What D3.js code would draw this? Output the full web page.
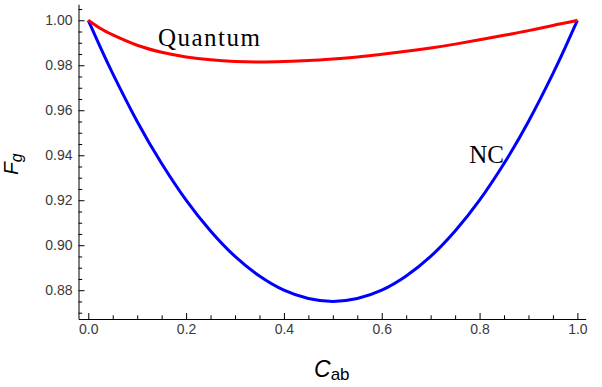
<!DOCTYPE html>
<html>
<head>
<meta charset="utf-8">
<script src="https://cdn.jsdelivr.net/npm/d3@7"></script>
<style>
  body { margin: 0; background: #fff; }
  svg { display: block; }
</style>
</head>
<body>
<script>
// values
var cab = [0, 0.025, 0.05, 0.1, 0.15, 0.2, 0.25, 0.3, 0.35, 0.4, 0.45, 0.5,
           0.55, 0.6, 0.65, 0.7, 0.75, 0.8, 0.85, 0.9, 0.95, 0.975, 1.0];
var quantum = [1.0, 0.9963, 0.9935, 0.9889, 0.9858, 0.9837, 0.9824, 0.9817, 0.9815, 0.9817, 0.9821, 0.9828,
               0.9837, 0.9849, 0.9862, 0.9877, 0.9894, 0.9913, 0.9933, 0.9954, 0.9977, 0.9988, 1.0];
var nc = [1.0, 0.9878, 0.9763, 0.955, 0.9363, 0.920, 0.9063, 0.895, 0.8863, 0.880, 0.8763, 0.875,
          0.8763, 0.880, 0.8863, 0.895, 0.9063, 0.920, 0.9363, 0.955, 0.9763, 0.9878, 1.0];

var xTicks = [0, 0.2, 0.4, 0.6, 0.8, 1.0];
var yTicks = [0.88, 0.90, 0.92, 0.94, 0.96, 0.98, 1.00];

var labels = [
    { text: "Quantum", x: 0.1425, y: 0.9886, spacing: 1.5 },
    { text: "NC", x: 0.779, y: 0.9364, spacing: 0 }
];

var width = 602, height = 387;

var svg = d3.select("body")
    .append("svg")
    .attr("width", width)
    .attr("height", height);

var x = d3.scaleLinear().domain([-0.02, 1.017]).range([78.5, 585.7]);
var y = d3.scaleLinear().domain([0.8672, 1.0071]).range([319, 4.3]);

// minor ticks every 0.05 / 0.005
var xMinor = d3.range(0, 1.0001, 0.05).filter(v => Math.abs(v * 5 - Math.round(v * 5)) > 1e-6);
var yMinor = d3.range(0.87, 1.0051, 0.005).filter(v => Math.abs(v * 50 - Math.round(v * 50)) > 1e-6);

var tickFont = "14px 'Liberation Sans', Arial, sans-serif";

//x axis: major + minor, ticks point inward
var gx = svg.append("g").attr("transform", "translate(0,319)");
gx.call(d3.axisBottom(x).tickValues(xMinor).tickSize(-3.7).tickSizeOuter(0).tickFormat(""));
gx.append("g").call(d3.axisBottom(x)
    .tickValues(xTicks)
    .tickSize(-6)
    .tickSizeOuter(0)
    .tickPadding(5)
    .tickFormat(d3.format(".1f")))
    .select(".domain").remove();

//y axis
var gy = svg.append("g").attr("transform", "translate(78.5,0)");
gy.call(d3.axisLeft(y).tickValues(yMinor).tickSize(-3.7).tickSizeOuter(0).tickFormat(""));
gy.append("g").call(d3.axisLeft(y)
    .tickValues(yTicks)
    .tickSize(-6)
    .tickSizeOuter(0)
    .tickPadding(6)
    .tickFormat(d3.format(".2f")))
    .select(".domain").remove();

svg.selectAll(".tick text")
    .style("font", tickFont)
    .attr("fill", "#3a3a3a");
svg.selectAll(".domain, .tick line").attr("stroke", "#000").attr("stroke-width", 1);

var line = d3.line()
    .x((d, i) => x(cab[i]))
    .y(d => y(d))
    .curve(d3.curveNatural);

svg.append("path")
    .datum(nc)
    .attr("fill", "none")
    .attr("stroke", "#0000ff")
    .attr("stroke-width", 3)
    .attr("d", line);

svg.append("path")
    .datum(quantum)
    .attr("fill", "none")
    .attr("stroke", "#ff0000")
    .attr("stroke-width", 3)
    .attr("d", line);

//curve labels
svg.selectAll(".lbl")
    .data(labels)
    .enter().append("text")
    .attr("class", "lbl")
    .attr("x", d => x(d.x))
    .attr("y", d => y(d.y))
    .style("font", "25px 'Liberation Serif', Cambria, serif")
    .style("letter-spacing", d => d.spacing + "px")
    .attr("fill", "#000")
    .text(d => d.text);

//axis titles
var xt = svg.append("text")
    .attr("x", 314)
    .attr("y", 376.5)
    .style("font-family", "'Liberation Sans', Arial, sans-serif")
    .attr("fill", "#000");
xt.append("tspan").style("font-size", "23px").style("font-style", "italic").text("C");
xt.append("tspan").style("font-size", "17px").attr("dy", 3).text("ab");

var yt = svg.append("text")
    .attr("transform", "translate(18,175) rotate(-90)")
    .style("font-family", "'Liberation Sans', Arial, sans-serif")
    .attr("fill", "#000");
yt.append("tspan").style("font-size", "21px").style("font-style", "italic").text("F");
yt.append("tspan").style("font-size", "16px").style("font-style", "italic").attr("dy", 4).text("g");
</script>
</body>
</html>
